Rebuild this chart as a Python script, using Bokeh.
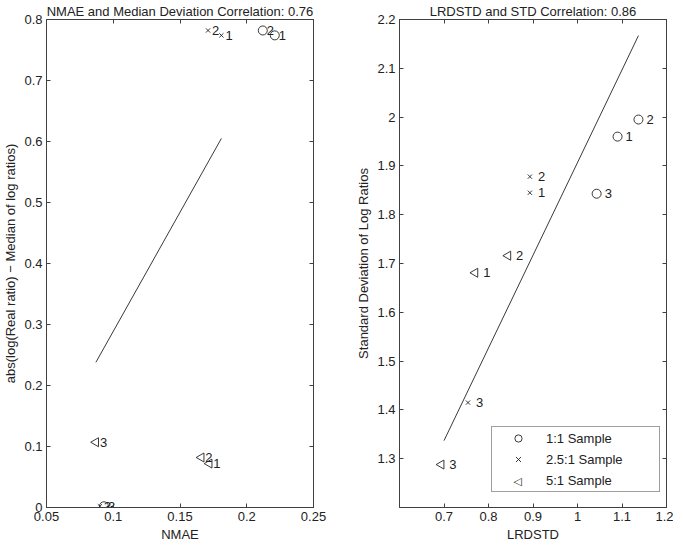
import math
from bokeh.plotting import figure
from bokeh.layouts import row
from bokeh.models import LinearAxis, FixedTicker, Legend, LegendItem, ColumnDataSource, Label
from bokeh.core.properties import value
from bokeh.embed import file_html
from bokeh.resources import INLINE

FONT = "Liberation Sans"

# ---------------- data ----------------
sample_ids = ["1", "2", "3"]

# left: NMAE vs abs(log(Real ratio) - Median of log ratios)
nmae_11 = [0.221, 0.212, 0.093]
med_11 = [0.774, 0.782, 0.002]
nmae_25 = [0.181, 0.171, 0.090]
med_25 = [0.774, 0.782, 0.002]
nmae_51 = [0.172, 0.166, 0.087]
med_51 = [0.072, 0.082, 0.107]
fit_left_x = [0.087, 0.181]
fit_left_y = [0.238, 0.605]

# right: LRDSTD vs STD of log ratios
lrd_11 = [1.090, 1.137, 1.043]
std_11 = [1.960, 1.995, 1.843]
lrd_25 = [0.893, 0.893, 0.754]
std_25 = [1.845, 1.878, 1.415]
lrd_51 = [0.770, 0.844, 0.694]
std_51 = [1.681, 1.716, 1.288]
fit_right_x = [0.700, 1.137]
fit_right_y = [1.337, 2.167]

left_xticks = [0.05, 0.1, 0.15, 0.2, 0.25]
left_yticks = [0, 0.1, 0.2, 0.3, 0.4, 0.5, 0.6, 0.7, 0.8]
right_xticks = [0.7, 0.8, 0.9, 1.0, 1.1, 1.2]
right_yticks = [1.3, 1.4, 1.5, 1.6, 1.7, 1.8, 1.9, 2.0, 2.1, 2.2]

legend_labels = ["1:1 Sample", "2.5:1 Sample", "5:1 Sample"]


def style_axis(ax, ticks, show_labels=True):
    ax.ticker = FixedTicker(ticks=ticks)
    ax.major_tick_in = 4
    ax.major_tick_out = 0
    ax.minor_tick_in = 0
    ax.minor_tick_out = 0
    ax.axis_line_color = "#404040"
    ax.major_tick_line_color = "#404040"
    ax.major_label_text_font = FONT
    ax.major_label_text_font_size = "13px"
    ax.major_label_text_color = "#222222"
    ax.major_label_standoff = 4
    ax.axis_label_text_font = FONT
    ax.axis_label_text_font_size = "13px"
    ax.axis_label_text_font_style = "normal"
    ax.axis_label_text_color = "#222222"
    ax.axis_label_standoff = 3
    if not show_labels:
        ax.major_label_overrides = {t: "" for t in ticks}
        ax.major_label_standoff = 0


def make_fig(title, xr, yr, xticks, yticks, xlabel, ylabel, bl, br):
    p = figure(
        output_backend="svg", toolbar_location=None,
        frame_width=267, frame_height=488,
        min_border_left=bl, min_border_right=br,
        min_border_top=18, min_border_bottom=31,
        x_range=xr, y_range=yr,
        x_axis_label=xlabel, y_axis_label=ylabel,
    )
    p.title.text = title
    p.title.text_font = FONT
    p.title.text_font_size = "13px"
    p.title.text_font_style = "normal"
    p.title.text_color = "#222222"
    p.title.align = "center"
    p.title.standoff = 2
    p.xgrid.visible = False
    p.ygrid.visible = False
    p.outline_line_color = "#404040"
    p.background_fill_color = "white"
    p.border_fill_color = "white"
    style_axis(p.xaxis[0], xticks)
    style_axis(p.yaxis[0], yticks)
    top = LinearAxis()
    style_axis(top, xticks, show_labels=False)
    p.add_layout(top, "above")
    right = LinearAxis()
    style_axis(right, yticks, show_labels=False)
    p.add_layout(right, "right")
    return p


def add_series(p, xs, ys, marker, size, angle, off):
    src = ColumnDataSource(dict(x=xs, y=ys, t=sample_ids))
    r = p.scatter("x", "y", source=src, marker=marker, size=size, angle=angle,
                  fill_color=None, line_color="#222222", line_width=0.9)
    p.text("x", "y", text="t", source=src, x_offset=off, text_baseline="middle",
           text_align="left", text_font=value(FONT), text_font_size="13px",
           text_color="#222222")
    return r


p1 = make_fig("NMAE and Median Deviation Correlation: 0.76", (0.05, 0.25), (0, 0.8),
              left_xticks, left_yticks, "NMAE",
              "abs(log(Real ratio) \u2212 Median of log ratios)", 40, 30)
add_series(p1, nmae_11, med_11, "circle", 9, 0, 4)
add_series(p1, nmae_25, med_25, "x", 6, 0, 4)
add_series(p1, nmae_51, med_51, "triangle", 9, math.pi / 2, 4)
p1.line(fit_left_x, fit_left_y, line_color="#222222", line_width=0.9)

p2 = make_fig("LRDSTD and STD Correlation: 0.86", (0.6, 1.2), (1.2, 2.2),
              right_xticks, right_yticks, "LRDSTD",
              "Standard Deviation of Log Ratios", 56, 7)
r1 = add_series(p2, lrd_11, std_11, "circle", 9, 0, 8)
r2 = add_series(p2, lrd_25, std_25, "x", 6, 0, 8)
add_series(p2, lrd_51, std_51, "triangle", 9, math.pi / 2, 8)
p2.line(fit_right_x, fit_right_y, line_color="#222222", line_width=0.9)

# invisible stand-in for the left-pointing triangle in the legend
r3 = p2.scatter(x=[], y=[], marker="triangle", size=9, fill_alpha=0, line_alpha=0)

legend = Legend(items=[LegendItem(label=legend_labels[0], renderers=[r1]),
                       LegendItem(label=legend_labels[1], renderers=[r2]),
                       LegendItem(label=legend_labels[2], renderers=[r3])],
                location=(92, 15))
legend.label_text_font = FONT
legend.label_text_font_size = "13px"
legend.label_text_color = "#222222"
legend.padding = 2
legend.spacing = 3
legend.glyph_width = 48
legend.glyph_height = 18
legend.label_height = 18
legend.label_width = 111
legend.label_standoff = 4
legend.margin = 0
legend.border_line_color = "#404040"
legend.background_fill_alpha = 0
p2.add_layout(legend, "center")

tri_key = Label(x=118, y=26, x_units="screen", y_units="screen", text="\u25c1",
                text_align="center", text_baseline="middle",
                text_font="DejaVu Sans", text_font_size="11px",
                text_color="#222222")
p2.add_layout(tri_key, "center")

layout = row(p1, p2)
open("out.html", "w").write(file_html(layout, INLINE))
